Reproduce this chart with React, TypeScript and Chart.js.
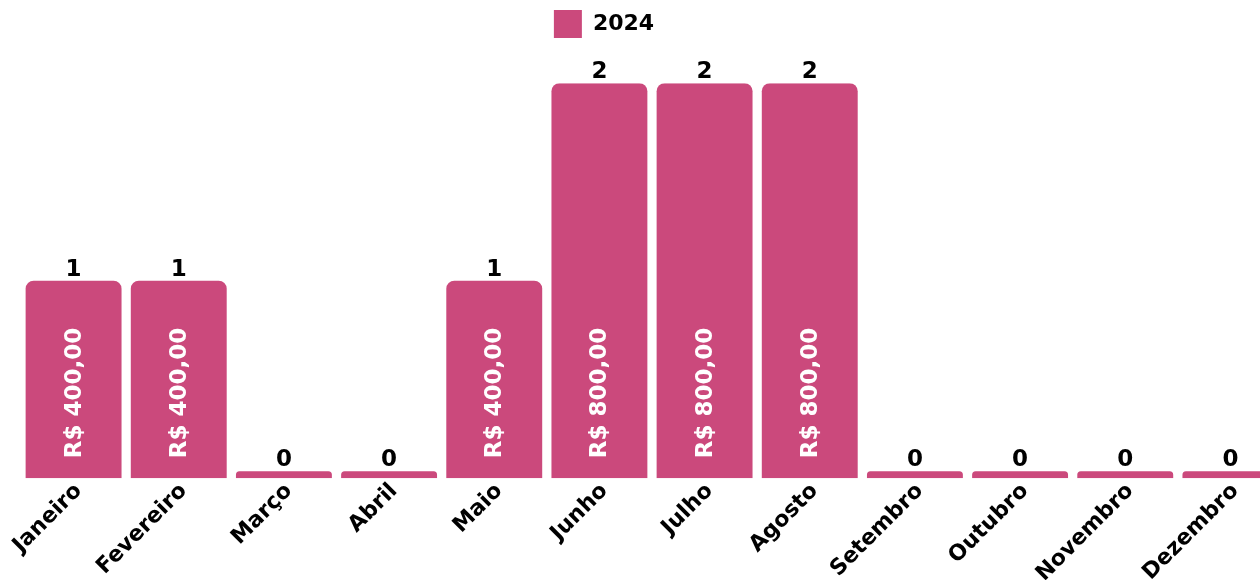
import React, { useEffect, useRef } from "react";
import { Chart, registerables } from "chart.js";

Chart.register(...registerables);

const months = [
  "Janeiro", "Fevereiro", "Março", "Abril", "Maio", "Junho",
  "Julho", "Agosto", "Setembro", "Outubro", "Novembro", "Dezembro",
];
const seriesLabel = "2024";
const counts = [1, 1, 0, 0, 1, 2, 2, 2, 0, 0, 0, 0];
const amounts = [400, 400, 0, 0, 400, 800, 800, 800, 0, 0, 0, 0];

const BAR_COLOR = "#CB497C";
const FONT = "'DejaVu Sans', sans-serif";

const formatBRL = (v: number) =>
  "R$ " + v.toFixed(2).replace(".", ",");

const labelPlugin = {
  id: "barLabels",
  afterDatasetsDraw(chart: any) {
    const meta = chart.getDatasetMeta(0);
    const ctx = chart.ctx;
    meta.data.forEach((bar: any, i: number) => {
      const { x, y, base } = bar.getProps(["x", "y", "base"], true);
      ctx.save();
      ctx.fillStyle = "#000";
      ctx.font = `bold 23px ${FONT}`;
      ctx.textAlign = "center";
      ctx.textBaseline = "alphabetic";
      ctx.fillText(String(counts[i]), x, y - 5);
      if (amounts[i] > 0) {
        ctx.translate(x, base - 20);
        ctx.rotate(-Math.PI / 2);
        ctx.fillStyle = "#fff";
        ctx.font = `bold 23px ${FONT}`;
        ctx.textAlign = "left";
        ctx.textBaseline = "middle";
        ctx.fillText(formatBRL(amounts[i]), 0, 1);
      }
      ctx.restore();
    });
  },
};

export default function App() {
  const ref = useRef<HTMLCanvasElement>(null);
  useEffect(() => {
    if (!ref.current) return;
    const chart = new Chart(ref.current, {
      type: "bar",
      data: {
        labels: months,
        datasets: [
          {
            label: seriesLabel,
            data: counts,
            backgroundColor: BAR_COLOR,
            borderRadius: 8,
            borderSkipped: "start",
            minBarLength: 7,
            barPercentage: 1,
            categoryPercentage: 0.912,
          },
        ],
      },
      options: {
        animation: false,
        responsive: true,
        maintainAspectRatio: false,
        layout: { padding: 0 },
        plugins: {
          legend: {
            position: "top",
            labels: {
              boxWidth: 28,
              boxHeight: 28,
              padding: 35,
              color: "#000",
              font: { family: FONT, size: 22, weight: "bold" },
            },
          },
          subtitle: {
            display: true,
            text: "",
            position: "top",
            weight: 500,
            font: { size: 1 },
            padding: { top: 0, bottom: 34 },
          },
          tooltip: { enabled: false },
        },
        scales: {
          x: {
            grid: { display: false, drawTicks: false },
            border: { display: false },
            ticks: {
              maxRotation: 45,
              minRotation: 45,
              padding: 0,
              labelOffset: 5,
              color: "#000",
              font: { family: FONT, size: 22, weight: "bold" },
            },
          },
          y: {
            min: 0,
            max: 2,
            grid: { display: false, drawTicks: false },
            border: { display: false },
            ticks: { display: false },
            afterFit: (s: any) => {
              s.width = 96;
            },
          },
        },
      },
      plugins: [labelPlugin],
    });
    return () => chart.destroy();
  }, []);
  return (
    <div
      style={{
        position: "fixed",
        left: 0,
        top: 0,
        width: 1260,
        height: 580,
        overflow: "hidden",
        background: "#fff",
      }}
    >
      <div
        style={{
          position: "absolute",
          left: -75,
          top: -25,
          width: 1358,
          height: 612,
        }}
      >
        <canvas ref={ref} />
      </div>
    </div>
  );
}
